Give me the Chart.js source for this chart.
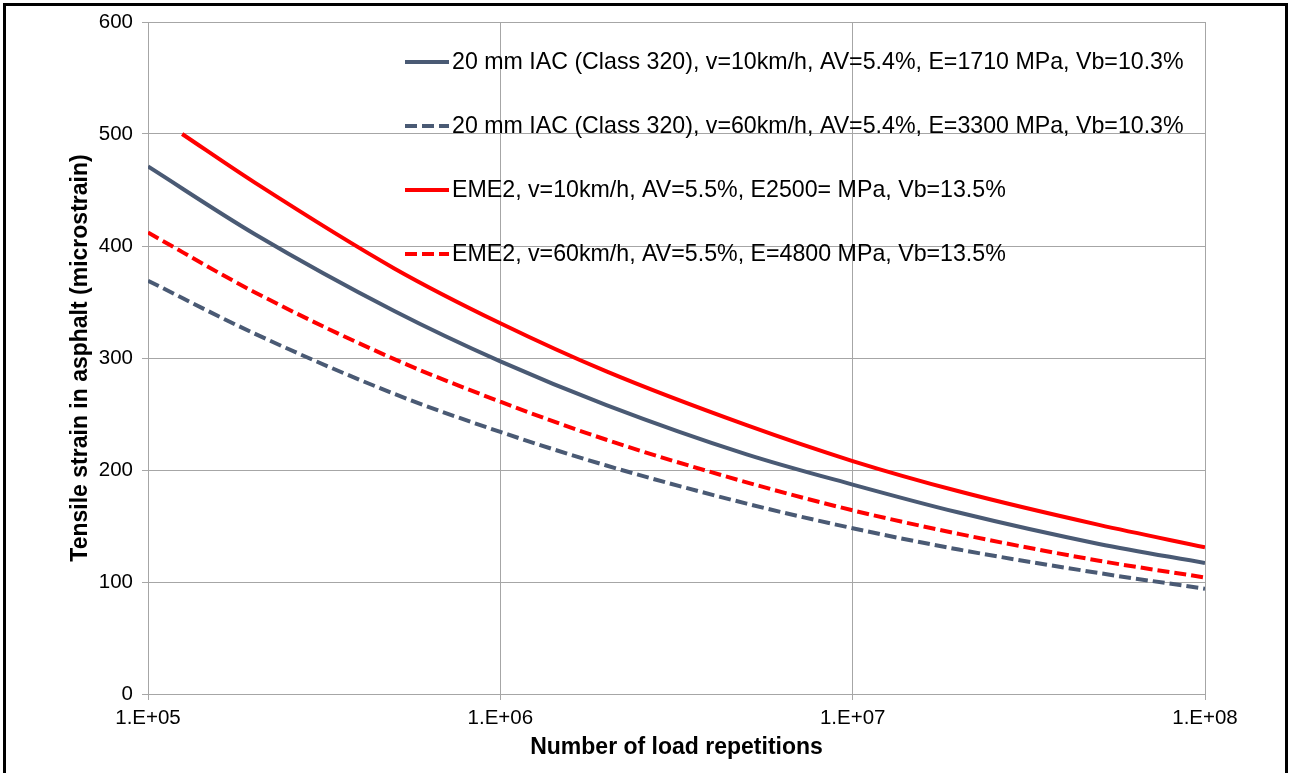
<!DOCTYPE html>
<html>
<head>
<meta charset="utf-8">
<script src="https://cdn.jsdelivr.net/npm/chart.js@4.4.1/dist/chart.umd.min.js"></script>
<style>
  html, body { margin: 0; padding: 0; background: #fff; overflow: hidden; }
  #wrap { position: absolute; left: 0; top: 0; width: 1290px; height: 773px; }
  #frame { position: absolute; left: 3px; top: 3px; width: 1279px; height: 800px;
           border: 3px solid #000; border-bottom: none; pointer-events: none; }
  canvas { position: absolute; left: 0; top: 0; }
</style>
</head>
<body>
<div id="wrap">
  <canvas id="fatigueChart" width="1290" height="773"></canvas>
  <div id="frame"></div>
</div>
<script>
// Load repetitions (x) and tensile strain values (microstrain)
const loadReps = [1e5, 2e5, 5e5, 1e6, 2e6, 5e6, 1e7, 2e7, 5e7, 1e8];
const eme2SlowReps = [1.25e5, 2e5, 5e5, 1e6, 2e6, 5e6, 1e7, 2e7, 5e7, 1e8];

const iacSlow = [471, 411, 342, 297, 258, 214, 187, 162, 134, 117];
const iacFast = [369, 322, 268, 234, 204, 170, 148, 129, 108, 94];
const eme2Slow = [500, 457, 380, 331, 288, 240, 208, 181, 151, 131];
const eme2Fast = [412, 359, 299, 261, 227, 189, 164, 143, 119, 104];

const seriesLabels = [
  '20 mm IAC (Class 320), v=10km/h, AV=5.4%, E=1710 MPa, Vb=10.3%',
  '20 mm IAC (Class 320), v=60km/h, AV=5.4%, E=3300 MPa, Vb=10.3%',
  'EME2, v=10km/h, AV=5.5%, E2500= MPa, Vb=13.5%',
  'EME2, v=60km/h, AV=5.5%, E=4800 MPa, Vb=13.5%'
];

const xTickValues = [1e5, 1e6, 1e7, 1e8];
const xTickLabels = ['1.E+05', '1.E+06', '1.E+07', '1.E+08'];
const yTickMin = 0, yTickMax = 600, yTickStep = 100;

const GREY = '#4a5a74';
const RED = '#ff0000';
const GRID = '#a6a6a6';
const FONT = "'Liberation Sans', Arial, sans-serif";

function toPoints(xs, ys) {
  return xs.map((x, i) => ({ x: x, y: ys[i] }));
}

function makeDataset(label, xs, ys, color, dashed) {
  return {
    label: label,
    data: toPoints(xs, ys),
    borderColor: color,
    backgroundColor: color,
    borderWidth: 4,
    borderDash: dashed ? [12, 5] : [],
    pointRadius: 0,
    fill: false,
    cubicInterpolationMode: 'monotone'
  };
}

// Legend drawn inside the plot area, no box, gridlines visible behind it
const insideLegend = {
  id: 'insideLegend',
  afterDraw(chart) {
    const ctx = chart.ctx;
    const area = chart.chartArea;
    const x0 = area.left + 257;
    const y0 = area.top + 40;
    const rowGap = 64;
    ctx.save();
    ctx.font = '23.2px ' + FONT;
    ctx.textBaseline = 'middle';
    ctx.textAlign = 'left';
    chart.data.datasets.forEach((ds, i) => {
      const y = y0 + i * rowGap;
      ctx.beginPath();
      ctx.strokeStyle = ds.borderColor;
      ctx.lineWidth = 4;
      ctx.setLineDash(ds.borderDash || []);
      ctx.moveTo(x0, y);
      ctx.lineTo(x0 + 44, y);
      ctx.stroke();
      ctx.setLineDash([]);
      ctx.fillStyle = '#000';
      ctx.fillText(ds.label, x0 + 47, y + 1);
    });
    ctx.restore();
  }
};

const ctx = document.getElementById('fatigueChart').getContext('2d');
new Chart(ctx, {
  type: 'line',
  data: {
    datasets: [
      makeDataset(seriesLabels[0], loadReps, iacSlow, GREY, false),
      makeDataset(seriesLabels[1], loadReps, iacFast, GREY, true),
      makeDataset(seriesLabels[2], eme2SlowReps, eme2Slow, RED, false),
      makeDataset(seriesLabels[3], loadReps, eme2Fast, RED, true)
    ]
  },
  options: {
    responsive: false,
    devicePixelRatio: 1,
    animation: false,
    layout: { padding: { left: 62, right: 85, top: 22, bottom: 0 } },
    plugins: {
      legend: { display: false },
      tooltip: { enabled: false }
    },
    scales: {
      x: {
        type: 'logarithmic',
        min: 1e5,
        max: 1e8,
        afterBuildTicks: (axis) => {
          axis.ticks = xTickValues.map(v => ({ value: v }));
        },
        afterFit: (scale) => { scale.height = 79; },
        ticks: {
          autoSkip: false,
          maxRotation: 0,
          padding: 6,
          color: '#000',
          font: { family: FONT, size: 20.5 },
          callback: (value, index) => xTickLabels[index]
        },
        grid: { color: GRID, lineWidth: 1, tickLength: 6 },
        border: { color: GRID, width: 1 },
        title: {
          display: true,
          text: 'Number of load repetitions',
          color: '#000',
          font: { family: FONT, size: 23, weight: 'bold' },
          padding: { top: 0, bottom: 12 }
        }
      },
      y: {
        min: yTickMin,
        max: yTickMax,
        afterFit: (scale) => { scale.width = 86; },
        ticks: {
          stepSize: yTickStep,
          padding: 9,
          color: '#000',
          font: { family: FONT, size: 20.5 }
        },
        grid: { color: GRID, lineWidth: 1, tickLength: 6 },
        border: { color: GRID, width: 1 },
        title: {
          display: true,
          text: 'Tensile strain in asphalt (microstrain)',
          color: '#000',
          font: { family: FONT, size: 23, weight: 'bold' },
          padding: { top: 5, bottom: 0 }
        }
      }
    }
  },
  plugins: [insideLegend]
});
</script>
</body>
</html>
